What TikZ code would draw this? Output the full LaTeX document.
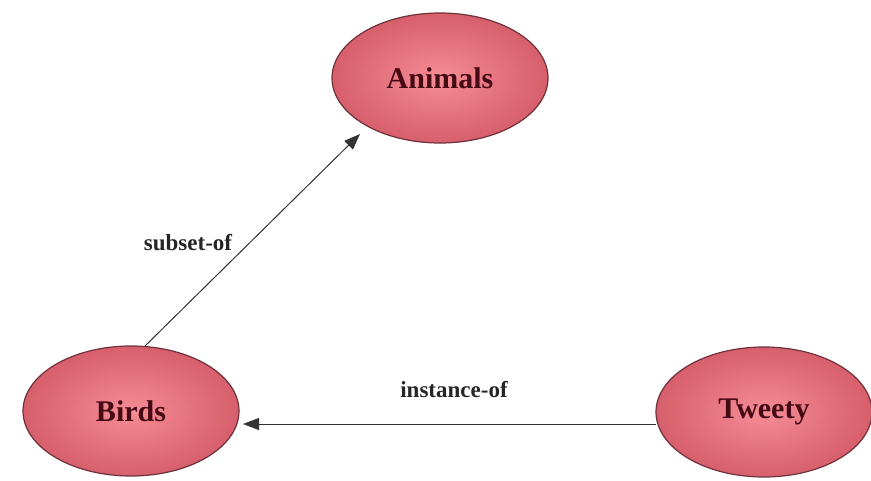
\documentclass[tikz,border=0pt]{standalone}
\usepackage{fontspec}
\setmainfont{Liberation Serif}
\usetikzlibrary{shapes.geometric,arrows.meta}
\definecolor{nodein}{RGB}{245,140,150}
\definecolor{nodeout}{RGB}{215,95,108}
\definecolor{nodeedge}{RGB}{110,50,60}
\definecolor{nodetext}{RGB}{70,10,20}
\begin{document}
\begin{tikzpicture}[x=1pt,y=-1pt,
  concept/.style={ellipse, draw=nodeedge, line width=1.2pt, inner color=nodein, outer color=nodeout,
    minimum width=216pt, minimum height=130pt, inner sep=0pt,
    font=\bfseries\fontsize{30}{34}\selectfont, text=nodetext},
  rel/.style={draw=black!80, line width=1pt, -{Triangle[length=16pt,width=12pt]}},
  lbl/.style={font=\bfseries\fontsize{23}{26}\selectfont, text=black!85}]
\useasboundingbox (0,0) rectangle (871,480);
\node[concept] (animals) at (440,78) {Animals};
\node[concept] (birds) at (131,411) {Birds};
\node[concept] (tweety) at (764,412) {Tweety};
\coordinate (bstart) at (145,346);
\coordinate (aend) at (360,134);
\coordinate (tstart) at (656,424);
\coordinate (bend) at (243,424);
\draw[rel] (bstart) -- (aend);
\node[lbl] (l1) at (188,243) {subset-of};
\draw[rel] (tstart) -- (bend);
\node[lbl] (l2) at (454,390) {instance-of};
\end{tikzpicture}
\end{document}
